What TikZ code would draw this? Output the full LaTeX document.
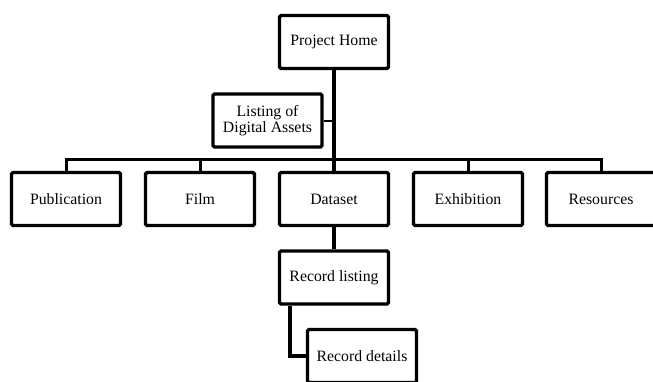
\documentclass[tikz,border=0pt]{standalone}
\usepackage{fontspec}
\setmainfont{Liberation Serif}
\newlength{\du}
\setlength{\du}{1pt}
\definecolor{dialinecolor}{rgb}{0.000000, 0.000000, 0.000000}
\definecolor{diafillcolor}{rgb}{1.000000, 1.000000, 1.000000}
\tikzset{
  pagebox/.style={draw=dialinecolor, fill=diafillcolor, line width=3.2\du,
    rounded corners=1.5\du, minimum width=109\du, minimum height=53\du,
    inner sep=0pt, align=center, font=\fontsize{15.8}{15.5}\selectfont},
  trunkline/.style={draw=dialinecolor, line width=3.2\du},
  busline/.style={draw=dialinecolor, line width=3.0\du},
  sideline/.style={draw=dialinecolor, line width=2.0\du}
}
\begin{document}
\begin{tikzpicture}[x=\du, y=-\du]
\useasboundingbox (0,0) rectangle (653,381);
% pages
\node[pagebox] (home) at (334,42) {Project Home};
\node[pagebox] (listing) at (267.5,120.5) {Listing of\\Digital Assets};
\node[pagebox] (pub) at (66,199) {Publication};
\node[pagebox] (film) at (200,199) {Film};
\node[pagebox] (dataset) at (334,199) {Dataset};
\node[pagebox] (exhib) at (468,199) {Exhibition};
\node[pagebox] (res) at (601,199) {Resources};
\node[pagebox] (rlist) at (334,277.5) {Record listing};
\node[pagebox] (rdet) at (362,356) {Record details};
\coordinate (bus) at (334,159);
% links
\draw[trunkline] (home) -- (dataset);
\draw[sideline] (listing.east) -- (listing.east -| home.south);
\draw[busline] (pub.north) |- (bus) -| (res.north);
\draw[busline] (film.north) -- (film.north |- bus);
\draw[busline] (exhib.north) -- (exhib.north |- bus);
\draw[trunkline] (dataset) -- (rlist);
\draw[trunkline] ([xshift=12\du]rlist.south west) |- (rdet.west);
\end{tikzpicture}
\end{document}
